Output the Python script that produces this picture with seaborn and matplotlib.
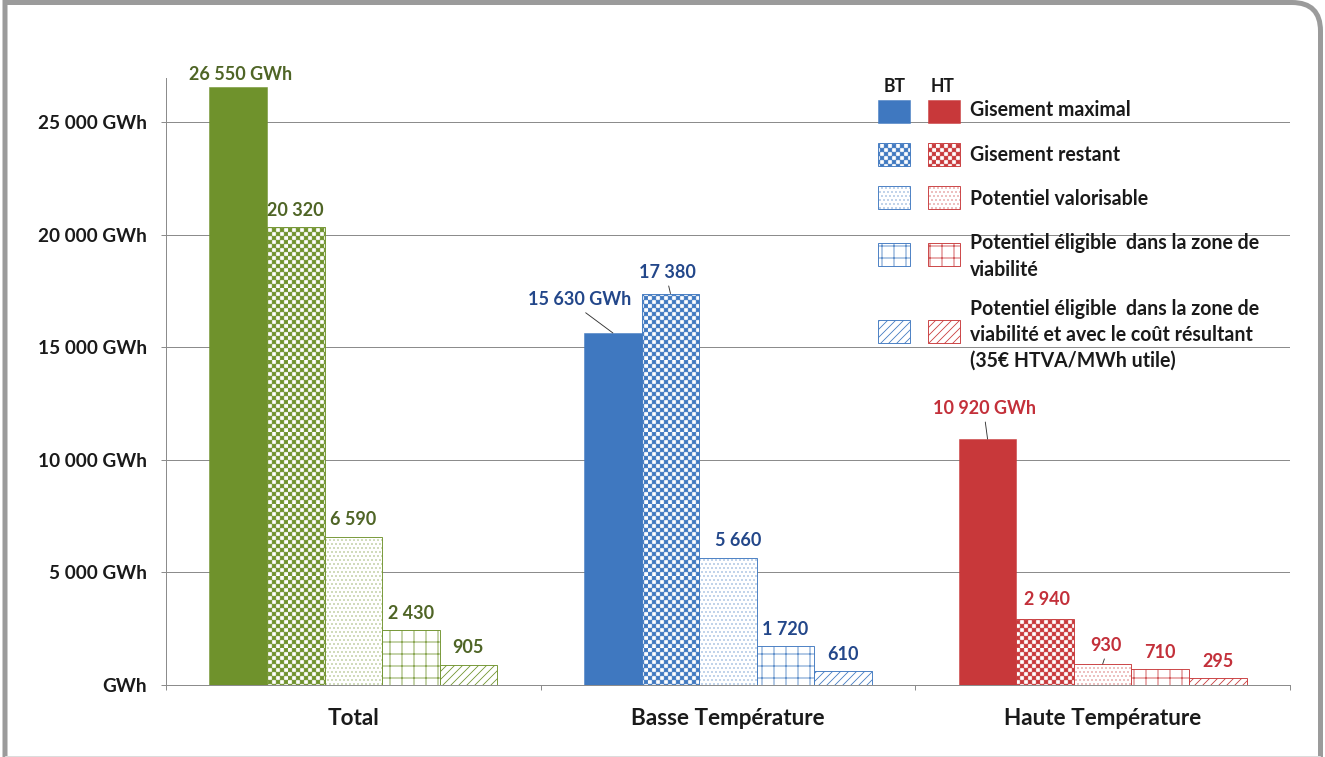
import numpy as np
import pandas as pd
import matplotlib
matplotlib.use("Agg")
import matplotlib.pyplot as plt
import matplotlib.hatch as mhatch
from matplotlib.path import Path
from matplotlib.patches import Rectangle, PathPatch
from matplotlib.colors import to_rgba
import seaborn as sns

# ---------------- data ----------------
categories = ["Total", "Basse Température", "Haute Température"]
series = [
    "Gisement maximal",
    "Gisement restant",
    "Potentiel valorisable",
    "Potentiel éligible  dans la zone de\nviabilité",
    "Potentiel éligible  dans la zone de\nviabilité et avec le coût résultant\n(35€ HTVA/MWh utile)",
]
total_values = [26550, 20320, 6590, 2430, 905]
bt_values = [15630, 17380, 5660, 1720, 610]
ht_values = [10920, 2940, 930, 710, 295]
y_ticks = [0, 5000, 10000, 15000, 20000, 25000]
y_tick_labels = ["GWh", "5 000 GWh", "10 000 GWh", "15 000 GWh", "20 000 GWh", "25 000 GWh"]
legend_headers = ["BT", "HT"]

# ---------------- styles ----------------
W, H, DPI = 1325, 757, 72
bar_colors = ["#6F922C", "#3F78C0", "#C8383A"]
text_colors = ["#4F6526", "#23478A", "#C3303A"]
hatches = [None, "***", "...", "+", "///"]
grid_color = "#8c8c8c"


def lighten(c, f):
    r, g, b, a = to_rgba(c)
    return (1 - (1 - r) * f, 1 - (1 - g) * f, 1 - (1 - b) * f, 1.0)


# checkerboard hatch (replaces the '*' star hatch)
class _Checker(mhatch.HatchPatternBase):
    def __init__(self, hatch, density):
        n = hatch.count("*") * density
        if n % 2:
            n += 1
        self.n = n
        self.num_vertices = (n * n // 2) * 5

    def set_vertices_and_codes(self, vertices, codes):
        n = self.n
        s = 1.0 / n
        inset = 0.25 / DPI
        k = 0
        for i in range(n):
            for j in range(n):
                if (i + j) % 2 == 0:
                    x0, y0 = i * s + inset, j * s + inset
                    x1, y1 = (i + 1) * s - inset, (j + 1) * s - inset
                    vertices[k:k + 5] = [(x0, y0), (x1, y0), (x1, y1), (x0, y1), (x0, y0)]
                    codes[k:k + 5] = [Path.MOVETO, Path.LINETO, Path.LINETO,
                                      Path.LINETO, Path.CLOSEPOLY]
                    k += 5


mhatch._hatch_types = [t for t in mhatch._hatch_types if t is not mhatch.Stars] + [_Checker]

sns.set_style("white")
plt.rcParams["font.family"] = ["Lato", "DejaVu Sans"]
plt.rcParams["font.weight"] = "bold"
plt.rcParams["hatch.linewidth"] = 0.8

df = pd.DataFrame({
    "category": np.repeat(categories, len(series)),
    "series": series * len(categories),
    "value": total_values + bt_values + ht_values,
})

fig = plt.figure(figsize=(W / DPI, H / DPI), dpi=DPI)
fig.patch.set_facecolor("white")
ax = fig.add_axes([166 / W, 1 - 685 / H, 1124 / W, (685 - 78) / H])

sns.barplot(data=df, x="category", y="value", hue="series", order=categories,
            hue_order=series, width=0.768, errorbar=None, legend=False,
            palette=["#888888"] * len(series), ax=ax, saturation=1)

ax.set_xlim(-0.5, 2.5)
ax.set_ylim(0, 26950)
ax.set_axisbelow(True)


def style_patch(p, si, col):
    if si == 0:
        p.set_facecolor(col)
        p.set_edgecolor(col)
        p.set_linewidth(0.5)
    else:
        p.set_facecolor("white")
        p.set_edgecolor(col)
        p.set_hatch(hatches[si])
        p.set_linewidth(0.9)
        if si == 2:
            p._hatch_color = lighten(col, 0.55)


# style bars
bar_info = []
for si, cont in enumerate(ax.containers):
    for bar in cont:
        ci = int(round(bar.get_x() + bar.get_width() / 2))
        style_patch(bar, si, bar_colors[ci])
        bar_info.append((ci, si, bar))

# value labels
offsets = {
    (0, 0): (2, 13, False),
    (1, 0): (-33, 33, True),
    (1, 1): (-3, 21.5, True),
    (1, 2): (10, 17, False),
    (2, 0): (-3, 31, True),
    (2, 1): (2, 19, False),
    (2, 2): (3.5, 19, True),
}
for ci, si, bar in bar_info:
    val = bar.get_height()
    txt = f"{int(round(val)):,}".replace(",", " ")
    if si == 0:
        txt += " GWh"
    dx, dy, line = offsets.get((ci, si), (0, 17, False))
    xc = bar.get_x() + bar.get_width() / 2
    kw = {}
    if line:
        kw["arrowprops"] = dict(arrowstyle="-", color="#333333", lw=0.9,
                                shrinkA=3, shrinkB=0, relpos=(0.5, 0.0))
    ax.annotate(txt, xy=(xc, val), xytext=(dx, dy), textcoords="offset points",
                ha="center", va="center", fontsize=18, fontweight="bold",
                color=text_colors[ci], annotation_clip=False, **kw)

# axes styling
for s in ["top", "right"]:
    ax.spines[s].set_visible(False)
for s in ["left", "bottom"]:
    ax.spines[s].set_color(grid_color)
    ax.spines[s].set_linewidth(1)
ax.yaxis.grid(True, color=grid_color, lw=1)
ax.xaxis.grid(False)
ax.set_yticks(y_ticks)
ax.set_yticklabels(y_tick_labels, fontsize=19, fontweight="bold", color="#1a1a1a")
ax.tick_params(axis="y", length=5, width=1, color=grid_color, pad=14, direction="out", left=True)
ax.set_xticks(range(len(categories)))
ax.set_xticklabels(categories, fontsize=22.5, fontweight="bold", color="#1a1a1a")
ax.set_xticks([-0.5, 0.5, 1.5, 2.5], minor=True)
ax.tick_params(axis="x", which="major", length=0, pad=23)
ax.tick_params(axis="x", which="minor", length=5, width=1, color=grid_color,
               direction="out", bottom=True)
ax.set_xlabel("")
ax.set_ylabel("")


def fp(x, y):
    return (x / W, 1 - y / H)


# legend (manual)
legend_lines = [s.split("\n") for s in series]
row_tops = [100, 143, 186, 243, 320]
row_baselines = [[116], [161], [205], [249, 276], [315, 341, 367]]
for hx, htxt in zip([895, 943], legend_headers):
    fig.text(*fp(hx, 92), htxt, ha="center", va="baseline", fontsize=17.5,
             fontweight="bold", color="#1a1a1a")
for si in range(len(series)):
    for k, sx in enumerate([878, 928]):
        col = bar_colors[k + 1]
        x0, y0 = fp(sx, row_tops[si] + 23)
        r = Rectangle((x0, y0), 32 / W, 23 / H, transform=fig.transFigure)
        style_patch(r, si, col)
        fig.add_artist(r)
    for line, yb in zip(legend_lines[si], row_baselines[si]):
        fig.text(*fp(970, yb), line, ha="left", va="baseline", fontsize=19.5,
                 fontweight="bold", color="#1a1a1a")

# outer frame with rounded top-right corner
verts = [fp(5, 760), fp(5, 2.5), fp(1292, 2.5), fp(1320.5, 2.5), fp(1320.5, 31), fp(1320.5, 760)]
codes = [Path.MOVETO, Path.LINETO, Path.LINETO, Path.CURVE3, Path.CURVE3, Path.LINETO]
fig.add_artist(PathPatch(Path(verts, codes), fill=False, edgecolor="#9b9b9b", lw=5,
                         transform=fig.transFigure))
fig.add_artist(plt.Line2D([5 / W, 1320 / W], [1 - 755.5 / H] * 2, color="#dcdcdc", lw=1,
                          transform=fig.transFigure))

fig.savefig("out.png", dpi=DPI, facecolor="white")
